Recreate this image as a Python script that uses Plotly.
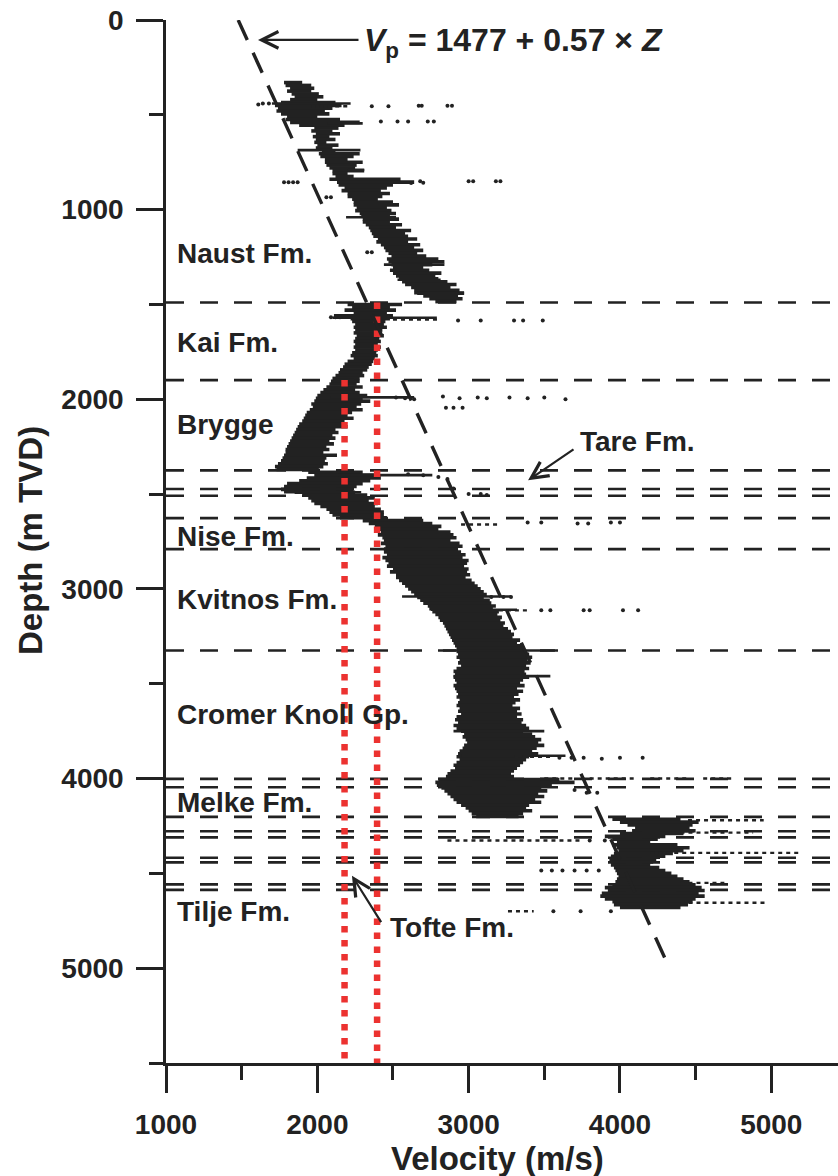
import plotly.graph_objects as go

# ---------------- data ----------------
# velocity log envelope: depth (m TVD), min / max velocity (m/s)
log_depth = [
    330, 345, 360, 375, 390, 405, 420, 435, 450, 465, 480, 495, 510, 525, 540, 555,
    570, 585, 600, 615, 630, 645, 660, 675, 690, 705, 720, 735, 750, 765, 780, 795,
    810, 825, 840, 855, 870, 885, 900, 915, 930, 945, 960, 975, 990, 1005, 1020, 1035,
    1050, 1065, 1080, 1095, 1110, 1125, 1140, 1155, 1170, 1185, 1200, 1215, 1230, 1245,
    1260, 1275, 1290, 1305, 1320, 1335, 1350, 1365, 1380, 1395, 1410, 1425, 1440, 1455,
    1470, 1485,
    1500, 1515, 1530, 1545, 1560, 1575, 1590, 1605, 1620, 1635, 1650, 1665, 1680, 1695,
    1710, 1725, 1740, 1755, 1770, 1785, 1800, 1815, 1830, 1845, 1860, 1875, 1890,
    1905, 1920, 1935, 1950, 1965, 1980, 1995, 2010, 2025, 2040, 2055, 2070, 2085, 2100,
    2115, 2130, 2145, 2160, 2175, 2190, 2205, 2220, 2235, 2250, 2265, 2280, 2295, 2310,
    2325, 2340, 2355, 2370,
    2385, 2400, 2415, 2430, 2445, 2460, 2475, 2490, 2505, 2520, 2535, 2550, 2565, 2580,
    2595, 2610, 2625,
    2640, 2655, 2670, 2685, 2700, 2715, 2730, 2745, 2760, 2775, 2790,
    2805, 2820, 2835, 2850, 2865, 2880, 2895, 2910, 2925, 2940, 2955, 2970, 2985, 3000,
    3015, 3030, 3045, 3060, 3075, 3090, 3105, 3120, 3135, 3150, 3165, 3180, 3195, 3210,
    3225, 3240, 3255, 3270, 3285, 3300, 3315,
    3330, 3345, 3360, 3375, 3390, 3405, 3420, 3435, 3450, 3465, 3480, 3495, 3510, 3525,
    3540, 3555, 3570, 3585, 3600, 3615, 3630, 3645, 3660, 3675, 3690, 3705, 3720, 3735,
    3750, 3765, 3780, 3795, 3810, 3825, 3840, 3855, 3870, 3885, 3900, 3915, 3930, 3945,
    3960, 3975, 3990,
    4005, 4020, 4035, 4050, 4065, 4080, 4095, 4110, 4125, 4140, 4155, 4170, 4185, 4200,
    4215, 4230, 4245, 4260, 4275, 4290, 4305, 4320, 4335, 4350, 4365, 4380, 4395, 4410,
    4425, 4440, 4455, 4470, 4485, 4500, 4515, 4530, 4545, 4560, 4575, 4590, 4605, 4620,
    4635, 4650, 4665, 4680,
]
log_vmin = [
    1780, 1790, 1820, 1800, 1830, 1850, 1820, 1760, 1720, 1740, 1730, 1760, 1800, 1790, 1820, 1880,
    1980, 1960, 1990, 1970, 1990, 1980, 2000, 1990, 2030, 2010, 2020, 2050, 2050, 2060, 2080, 2100,
    2100, 2120, 2080, 2130, 2140, 2180, 2160, 2200, 2200, 2230, 2240, 2240, 2260, 2250, 2280, 2290,
    2300, 2300, 2320, 2340, 2350, 2360, 2370, 2400, 2390, 2420, 2440, 2450, 2470, 2490,
    2460, 2470, 2490, 2500, 2480, 2500, 2520, 2540, 2560, 2580, 2620, 2640, 2660, 2700,
    2740, 2780,
    2200, 2230, 2180, 2240, 2110, 2220, 2230, 2250, 2240, 2250, 2240, 2260, 2250, 2240,
    2250, 2240, 2250, 2230, 2220, 2240, 2200, 2180, 2170, 2150, 2140, 2120, 2100,
    2090, 2080, 2060, 2040, 2020, 2000, 1990, 1980, 1960, 1970, 1950, 1930, 1920, 1910,
    1900, 1880, 1870, 1860, 1850, 1840, 1830, 1820, 1810, 1800, 1790, 1790, 1780, 1770,
    1760, 1740, 1720, 1730,
    1940, 1980, 1930, 1880, 1800, 1780, 1760, 1850, 1900, 1940, 1960, 1980, 2020, 2060,
    2080, 2100, 2150,
    2300, 2340, 2380, 2400, 2420, 2400, 2430, 2440, 2420, 2450, 2440,
    2440, 2460, 2430, 2450, 2470, 2460, 2500, 2480, 2520, 2520, 2540, 2560, 2580, 2600,
    2620, 2640, 2660, 2680, 2700, 2730, 2740, 2760, 2780, 2800, 2810, 2830, 2840, 2850,
    2860, 2870, 2880, 2890, 2900, 2910, 2920,
    2920, 2930, 2920, 2940, 2930, 2950, 2920, 2900, 2910, 2900, 2910, 2920, 2900, 2910,
    2920, 2930, 2920, 2940, 2930, 2920, 2940, 2930, 2950, 2920, 2910, 2930, 2900, 2920,
    2950, 2970, 2960, 2980, 2990, 2970, 2960, 2940, 2930, 2920, 2940, 2920, 2900, 2910,
    2880, 2860, 2850,
    2800, 2780, 2790, 2820, 2840, 2860, 2880, 2900, 2920, 2950, 2980, 3000, 3020, 3050,
    3950, 4000, 4050, 4100, 4080, 4000, 3900, 3950, 3980, 3950, 3980, 3990, 3960, 3940,
    3930, 3950, 3940, 3960, 3970, 3980, 3990, 3980, 3970, 3950, 3900, 3920, 3880, 3870,
    3900, 3950, 3960, 4000,
]
log_vmax = [
    1900, 1960, 1980, 1960, 2010, 2040, 2000, 2120, 2160, 2100, 2050, 2080, 2000, 2150, 2280, 2180,
    2140, 2100, 2150, 2080, 2120, 2060, 2140, 2100, 2120, 2280, 2240, 2200, 2300, 2260, 2250, 2310,
    2200, 2240, 2550, 2640, 2500, 2460, 2420, 2480, 2430, 2400, 2500, 2540, 2460, 2490, 2520, 2480,
    2540, 2480, 2560, 2520, 2620, 2580, 2600, 2660, 2600, 2680, 2640, 2700, 2660, 2720,
    2800, 2840, 2760, 2700, 2740, 2820, 2780, 2800, 2860, 2920, 2880, 2940, 2970, 2930,
    2960, 2920,
    2560, 2480, 2520, 2460, 2500, 2480, 2450, 2440, 2460, 2430, 2420, 2440, 2410, 2420,
    2400, 2420, 2400, 2390, 2400, 2380, 2370, 2360, 2340, 2330, 2300, 2310, 2280,
    2280, 2260, 2300, 2250, 2280, 2330, 2300, 2350, 2290, 2260, 2300, 2230, 2200, 2240,
    2180, 2170, 2200, 2120, 2140, 2100, 2120, 2080, 2110, 2060, 2080, 2040, 2130, 2060,
    2050, 2070, 2040, 2010,
    2300, 2380, 2420, 2350, 2300, 2260, 2240, 2250, 2330, 2380, 2340, 2400, 2380, 2420,
    2440, 2440, 2460,
    2700, 2760, 2820, 2800, 2880, 2900, 2920, 2880, 2940, 2960, 2930,
    2950, 2980, 2960, 3000, 2990, 2970, 3000, 2990, 3010, 2980, 3020, 3040, 3060, 3080,
    3100, 3120, 3100, 3140, 3150, 3180, 3160, 3200, 3190, 3220, 3210, 3240, 3230, 3260,
    3280, 3300, 3290, 3340, 3320, 3360, 3370,
    3380, 3400, 3420, 3390, 3410, 3380, 3400, 3370, 3380, 3400, 3360, 3340, 3370, 3320,
    3360, 3330, 3300, 3340, 3310, 3290, 3340, 3320, 3350, 3320, 3360, 3350, 3380, 3400,
    3360, 3420, 3440, 3480, 3460, 3500, 3450, 3420, 3460, 3400, 3380, 3360, 3340, 3320,
    3300, 3280, 3300,
    3600, 3700, 3550, 3480, 3520, 3460, 3500, 3440, 3480, 3400, 3380, 3420, 3360, 3330,
    4400, 4520, 4480, 4460, 4500, 4420, 4300, 4250, 4200, 4380, 4460, 4420, 4350, 4300,
    4240, 4220, 4200, 4260, 4300, 4340, 4380, 4420, 4460, 4500, 4540, 4560, 4520, 4560,
    4500, 4480, 4450, 4400,
]

# thin solid streaks that stick out of the main cloud
spike_depth = [440, 545, 686, 790, 1040, 1290, 1370, 1440, 1570, 1990, 2400, 2490,
               3040, 3110, 3325, 3460, 3750, 3880]
spike_vmin = [1700, 2070, 1870, 2200, 2190, 2440, 2530, 2640, 2100, 2090, 2140, 1780,
              2560, 2750, 2830, 2900, 2900, 2950]
spike_vmax = [2220, 2300, 2285, 2310, 2520, 2840, 2815, 2970, 2790, 2640, 2760, 2290,
              3280, 3320, 3570, 3540, 3500, 3640]

# sparse streaks of outlying samples: depth, start / end velocity
streak_depth = [455, 1580, 2660, 3113, 3885, 4000, 4000, 4000, 4000, 4220, 4285,
                4327, 4392, 4550, 4655, 4700]
streak_vmin = [1960, 2500, 2950, 3200, 3300, 3500, 3800, 4200, 4550, 4450, 4400,
               2860, 4200, 4400, 4400, 3260]
streak_vmax = [2220, 2800, 3200, 3400, 3550, 3700, 4100, 4450, 4750, 4950, 4880,
               3750, 5180, 4690, 4980, 3430]

# isolated outlying samples
dot_depth = [440, 440, 445, 455, 455, 452, 452, 452, 452,
             535, 535, 535, 535, 535,
             855, 855, 855, 855, 860, 850, 858, 850, 850, 850, 850,
             935, 935, 1225, 1225,
             1568, 1568, 1568, 1585, 1585, 1585, 1585, 1585,
             1990, 1995, 2000, 1985, 1995, 1990, 1995, 1990, 1995, 1990, 2000, 2045, 2045, 2045,
             2395, 2400, 2410, 2420, 2470, 2500, 2500, 2505,
             2650, 2650, 2655, 2655, 2650, 2650,
             3043, 3043, 3043, 3113, 3113, 3113, 3113, 3113, 3113,
             3890, 3890, 3890, 3895, 3890, 3890,
             4060, 4075, 4075, 4327, 4327,
             4485, 4485, 4485, 4485, 4485, 4485,
             4700, 4700, 4700]
dot_vel = [1640, 1680, 1610, 2360, 2470, 2670, 2690, 2860, 2890,
           2420, 2530, 2600, 2730, 2770,
           1780, 1810, 1840, 1870, 2620, 2680, 2700, 3000, 3030, 3180, 3210,
           2060, 2090, 2330, 2360,
           2090, 2120, 2150, 2930, 3080, 3300, 3360, 3490,
           2520, 2580, 2640, 2830, 2940, 3060, 3120, 3270, 3390, 3500, 3640, 2850, 2900, 2960,
           2600, 2700, 2800, 2860, 2900, 3000, 3080, 3120,
           3390, 3480, 3720, 3790, 3940, 4000,
           3150, 3230, 3280, 3480, 3540, 3760, 3800, 4020, 4120,
           3600, 3680, 3760, 3880, 4000, 4150,
           3700, 3780, 3850, 3800, 3900,
           3480, 3550, 3620, 3700, 3780, 3860,
           3560, 3740, 3940]

# formation boundaries (m TVD)
boundary_depth = [1490, 1899, 2375, 2473, 2509, 2627, 2790, 3325,
                  4002, 4046, 4202, 4278, 4310, 4418, 4442, 4558, 4587]

# formation labels
fm_names = ["Naust Fm.", "Kai Fm.", "Brygge", "Nise Fm.", "Kvitnos Fm.",
            "Cromer Knoll Gp.", "Melke Fm.", "Tilje Fm."]
fm_label_depth = [1229, 1703, 2132, 2723, 3055, 3662, 4124, 4702]

# reference velocities (red dotted lines): velocity, top depth
ref_vel = [2180, 2395]
ref_top = [1899, 1490]

# trend line Vp = 1477 + 0.57 * Z
trend_a, trend_b = 1477, 0.57
trend_depth = [0, 4970]

x_ticks = [1000, 2000, 3000, 4000, 5000]
y_ticks = [0, 1000, 2000, 3000, 4000, 5000]
X_RANGE = [1000, 5441]
Y_RANGE = [5500, 0]

INK = "#222222"
RED = "#EC3230"
FONT = "Liberation Sans"

fig = go.Figure()


def segments(depths, v0, v1):
    xs, ys = [], []
    for d, a, b in zip(depths, v0, v1):
        xs += [a, b, None]
        ys += [d, d, None]
    return xs, ys


# velocity log cloud
cx, cy = segments(log_depth, log_vmin, log_vmax)
fig.add_trace(go.Scatter(x=cx, y=cy, mode="lines",
                         line=dict(color=INK, width=3.6), hoverinfo="skip"))

kx, ky = segments(spike_depth, spike_vmin, spike_vmax)
fig.add_trace(go.Scatter(x=kx, y=ky, mode="lines",
                         line=dict(color=INK, width=2.6), hoverinfo="skip"))

sx, sy = segments(streak_depth, streak_vmin, streak_vmax)
fig.add_trace(go.Scatter(x=sx, y=sy, mode="lines",
                         line=dict(color=INK, width=2.4, dash="4px,4px"), hoverinfo="skip"))

fig.add_trace(go.Scatter(x=dot_vel, y=dot_depth, mode="markers",
                         marker=dict(color=INK, size=4, line=dict(width=0)), hoverinfo="skip"))

# formation boundaries
bx, by = segments(boundary_depth, [X_RANGE[0]] * len(boundary_depth),
                  [X_RANGE[1]] * len(boundary_depth))
fig.add_trace(go.Scatter(x=bx, y=by, mode="lines",
                         line=dict(color=INK, width=2.6, dash="18px,16px"), hoverinfo="skip"))

# red reference lines
for v, top in zip(ref_vel, ref_top):
    fig.add_trace(go.Scatter(x=[v, v], y=[top, Y_RANGE[0]], mode="lines",
                             line=dict(color=RED, width=6.5, dash="6.5px,7.5px"),
                             hoverinfo="skip"))

# trend line
tv = [trend_a + trend_b * z for z in trend_depth]
fig.add_trace(go.Scatter(x=tv, y=trend_depth, mode="lines",
                         line=dict(color=INK, width=3.4, dash="22px,14px"), hoverinfo="skip"))

ann = []
for name, d in zip(fm_names, fm_label_depth):
    ann.append(dict(x=1060, y=d, xref="x", yref="y", text=name, showarrow=False,
                    xanchor="left", yanchor="middle",
                    font=dict(family=FONT, size=28, color=INK, weight="bold")))

ann.append(dict(x=3723, y=2222, xref="x", yref="y", text="Tare Fm.", showarrow=False,
                xanchor="left", yanchor="middle",
                font=dict(family=FONT, size=28, color=INK, weight="bold")))
ann.append(dict(x=2467, y=4786, xref="x", yref="y", text="Tofte Fm.", showarrow=False,
                xanchor="left", yanchor="middle",
                font=dict(family=FONT, size=28, color=INK, weight="bold")))
ann.append(dict(x=2295, y=116, xref="x", yref="y",
                text="<i>V</i><sub>p</sub> = 1477 + 0.57 × <i>Z</i>", showarrow=False,
                xanchor="left", yanchor="middle",
                font=dict(family=FONT, size=32, color=INK, weight="bold")))

# arrows
for (hx, hy, tx, ty) in [(1608, 105, 2282, 105), (3393, 2427, 3703, 2259),
                         (2229, 4512, 2428, 4765)]:
    ann.append(dict(x=hx, y=hy, ax=tx, ay=ty, xref="x", yref="y", axref="x", ayref="y",
                    text="", showarrow=True, arrowhead=5, arrowsize=1.5, arrowwidth=2.2,
                    arrowcolor=INK, standoff=0, startstandoff=0))

# axis titles
ann.append(dict(x=-0.2024, y=0.5014, xref="paper", yref="paper", text="Depth (m TVD)",
                textangle=-90, showarrow=False, xanchor="center", yanchor="middle",
                font=dict(family=FONT, size=33, color=INK, weight="bold")))
ann.append(dict(x=0.4926, y=-0.0915, xref="paper", yref="paper", text="Velocity (m/s)",
                showarrow=False, xanchor="center", yanchor="middle",
                font=dict(family=FONT, size=33, color=INK, weight="bold")))

axis_common = dict(showgrid=False, zeroline=False, showline=True, linecolor=INK,
                   linewidth=2.5, ticks="outside", ticklen=27, tickwidth=2.5,
                   tickcolor=INK, automargin=False,
                   tickfont=dict(family=FONT, size=28, color=INK, weight="bold"))

fig.update_layout(
    width=838, height=1176,
    margin=dict(l=166, r=0, t=20, b=113, autoexpand=False),
    paper_bgcolor="white", plot_bgcolor="white",
    showlegend=False,
    annotations=ann,
    xaxis=dict(range=X_RANGE, tickvals=x_ticks, ticktext=[str(t) for t in x_ticks],
               minor=dict(dtick=500, tick0=0, ticklen=14, tickwidth=2.5, tickcolor=INK,
                          ticks="outside", showgrid=False),
               ticklabelstandoff=8, **axis_common),
    yaxis=dict(range=Y_RANGE, tickvals=y_ticks, ticktext=[str(t) for t in y_ticks],
               minor=dict(dtick=500, tick0=0, ticklen=14, tickwidth=2.5, tickcolor=INK,
                          ticks="outside", showgrid=False),
               ticklabelstandoff=7, **axis_common),
)

fig.write_html("out.html",
               config={"displayModeBar": False},
               post_script="document.body.style.margin='0';"
                           "document.body.style.overflow='hidden';")
